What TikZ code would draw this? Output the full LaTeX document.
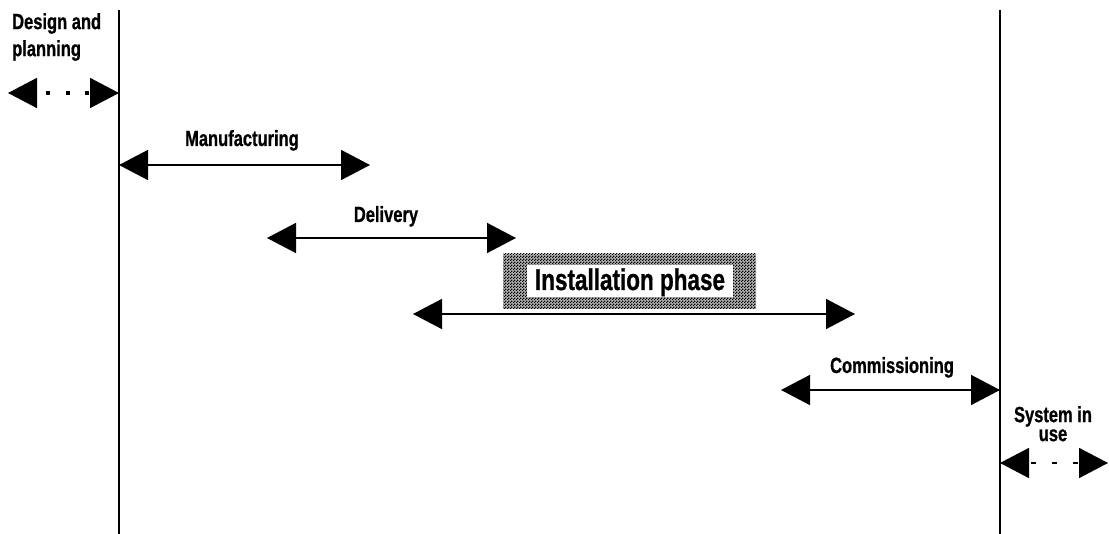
\documentclass[tikz,border=0pt]{standalone}
\usepackage{fontspec}
\newfontfamily\labfont{Liberation Sans Bold}[FakeStretch=0.75,FakeBold=0.8]
\usetikzlibrary{arrows.meta,patterns}
\pgfdeclarepatternformonly{finecheck}{\pgfpointorigin}{\pgfqpoint{3pt}{3pt}}{\pgfqpoint{3pt}{3pt}}{%
  \pgfpathrectangle{\pgfpointorigin}{\pgfqpoint{1.5pt}{1.5pt}}%
  \pgfpathrectangle{\pgfqpoint{1.5pt}{1.5pt}}{\pgfqpoint{1.5pt}{1.5pt}}%
  \pgfusepath{fill}}
\tikzset{
  tri/.tip={Triangle[length=29pt,width=30pt]},
  phase/.style={line width=1.6pt, tri-tri},
  headsonly/.style={line width=1.6pt, dash pattern=on 0pt off 2000pt, tri-tri},
  lab/.style={inner sep=0pt, font=\labfont\fontsize{22}{27}\selectfont},
  bigl/.style={inner sep=0pt, font=\labfont\fontsize{30}{30}\selectfont},
  milestone/.style={line width=1.3pt},
  shade/.style={fill=black!30, postaction={pattern=finecheck}}
}
\begin{document}
\begin{tikzpicture}[x=1pt,y=-1pt]
\useasboundingbox (0,0) rectangle (1109,534);
% milestones
\coordinate (m1t) at (119,10); \coordinate (m1b) at (119,534);
\coordinate (m2t) at (1000,10); \coordinate (m2b) at (1000,534);
\draw[milestone] (m1t) -- (m1b);
\draw[milestone] (m2t) -- (m2b);
% design and planning
\node[lab, anchor=north west, align=left] (dp) at (12,13) {Design and\\planning};
\coordinate (dpl) at (8,93); \coordinate (dpr) at (119,93);
\draw[headsonly] (dpl) -- (dpr);
\foreach \x in {48,68,87} \fill (\x-1.6,91.4) rectangle (\x+1.6,94.6);
% manufacturing
\node[lab, anchor=base] (man) at (242,146) {Manufacturing};
\coordinate (manl) at (119,165); \coordinate (manr) at (370,165);
\draw[phase] (manl) -- (manr);
% delivery
\node[lab, anchor=base] (del) at (386,222) {Delivery};
\coordinate (dell) at (267,238); \coordinate (delr) at (516,238);
\draw[phase] (dell) -- (delr);
% installation
\path[shade] (503,254) rectangle (756,309);
\fill[white] (527,265) rectangle (733,297);
\node[bigl, anchor=base] (inst) at (630,290) {Installation phase};
\coordinate (insl) at (413,314); \coordinate (insr) at (855,314);
\draw[phase] (insl) -- (insr);
% commissioning
\node[lab, anchor=base] (com) at (892,373) {Commissioning};
\coordinate (coml) at (781,390); \coordinate (comr) at (1000,390);
\draw[phase] (coml) -- (comr);
% system in use
\node[lab, anchor=north, align=center, font=\labfont\fontsize{22}{19}\selectfont] (siu) at (1053,406) {System in\\use};
\coordinate (siul) at (1000,463); \coordinate (siur) at (1108,463);
\draw[headsonly] (siul) -- (siur);
\foreach \x in {1033,1054,1075} \fill (\x-2.5,462) rectangle (\x+2.5,464.2);
\end{tikzpicture}
\end{document}
